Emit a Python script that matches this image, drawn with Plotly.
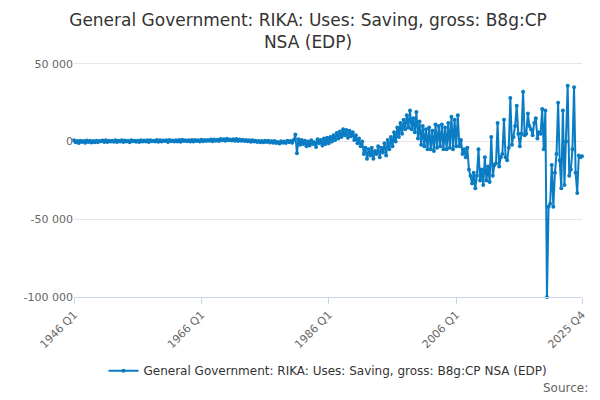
import plotly.graph_objects as go

years = list(range(1946, 2026))
quarters = [f"{y} Q{q}" for y in years for q in range(1, 5)]

# quarterly values (GBP m), one row per year
rows = [
    [800, -500, 300, -900],      # 1946
    [600, -300, 400, -700],
    [700, -200, 500, -600],
    [400, -400, 600, -500],
    [300, 200, 700, -300],       # 1950
    [900, -200, 500, 100],
    [600, -100, 800, -300],
    [500, 100, 900, -200],
    [700, 0, 600, -400],
    [800, 200, 500, -100],       # 1955
    [600, -200, 900, 0],
    [700, 100, 800, -300],
    [900, 200, 600, 0],
    [1000, -100, 800, 100],
    [700, 300, 900, -200],       # 1960
    [1100, 200, 700, 0],
    [800, 100, 1000, -100],
    [1200, 300, 800, 200],
    [900, 100, 1100, 0],
    [1000, 400, 900, 100],       # 1965
    [1200, 200, 1000, 300],
    [1100, 500, 1300, 200],
    [1400, 600, 1200, 400],
    [1600, 800, 1500, 500],
    [1800, 900, 1400, 700],      # 1970
    [1500, 600, 1700, 400],
    [1300, 500, 1200, 300],
    [1000, 200, 900, -100],
    [800, 0, 600, -300],
    [400, -500, 300, -400],      # 1975
    [600, -200, 500, -600],
    [200, -800, 400, -900],
    [-300, -1200, 200, -700],
    [100, -900, 600, -500],
    [300, -800, 1000, 4500],     # 1980
    [-7500, 1500, -2000, 1000],
    [-1500, 500, -3000, 0],
    [-2500, 800, -1500, -500],
    [-3500, 1500, -1000, 1000],
    [-2500, 2000, -1500, 2500],  # 1985
    [-1000, 3000, 0, 4000],
    [1000, 5500, 2000, 6500],
    [3000, 8000, 4000, 7500],
    [2500, 7000, 3500, 6000],
    [1000, 4000, -1000, 2000],   # 1990
    [-3000, 0, -8000, -4000],
    [-11000, -5000, -9000, -4000],
    [-11000, -6000, -8000, -3000],
    [-10000, -4000, -7000, -1000],
    [-9000, 1000, -5000, 3000],  # 1995
    [-3000, 6000, 0, 9000],
    [3000, 12000, 5000, 14000],
    [8000, 17000, 9000, 20000],
    [8000, 15000, 6000, 19000],
    [2000, 13000, -2000, 10000], # 2000
    [-3000, 8000, -5000, 9000],
    [-5000, 7000, -6000, 11000],
    [-4000, 10000, -3000, 11000],
    [-5000, 9000, -5000, 12000],
    [-4000, 16000, -5000, 14000], # 2005
    [-3000, 17000, -3000, 1000],
    [-8000, -5000, -10000, -4000],
    [-18000, -22000, -27000, -20000],
    [-30000, -22000, -5000, -25000],
    [-18000, -28000, -10000, -25000], # 2010
    [-16000, -26000, 3000, -22000],
    [-15000, -14000, 12000, -16000],
    [-10000, -8000, 14000, -10000],
    [-12000, -4000, 28000, -2000],
    [3000, 10000, 23000, 5000],   # 2015
    [-3000, 5000, 32000, 4000],
    [5000, 18000, 10000, 8000],
    [4000, 12000, 15000, 2000],
    [6000, 5000, 21000, -5000],
    [20000, -100000, -42000, -40000], # 2020
    [-15000, -42000, -20000, -8000],
    [25000, -12000, -30000, 20000],
    [-28000, 0, 36000, -22000],
    [-18000, -5000, 35000, -20000],
    [-33000, -9000, -10000, -9500],   # 2025
]
values = [v for r in rows for v in r]
assert len(values) == len(quarters)

series_name = "General Government: RIKA: Uses: Saving, gross: B8g:CP NSA (EDP)"
tick_vals = ["1946 Q1", "1966 Q1", "1986 Q1", "2006 Q1", "2025 Q4"]

fig = go.Figure()
fig.add_trace(go.Scatter(
    x=quarters, y=values, mode="lines+markers", name=series_name,
    line=dict(color="#0a7cc3", width=2), marker=dict(size=4, color="#0a7cc3"),
    cliponaxis=False,
))
fig.update_layout(
    width=600, height=400,
    font=dict(family="DejaVu Sans", color="#333"),
    title=dict(text="General Government: RIKA: Uses: Saving, gross: B8g:CP<br>NSA (EDP)",
               x=0.5, y=0.955, font=dict(size=17)),
    plot_bgcolor="white", paper_bgcolor="white",
    margin=dict(l=66, r=26, t=52, b=111, autoexpand=False),
    showlegend=True,
    legend=dict(orientation="h", x=0.5, xanchor="center", y=-0.25, font=dict(size=12)),
    xaxis=dict(type="category", tickvals=tick_vals, ticktext=tick_vals, tickangle=-45,
               showgrid=False, ticks="outside", ticklen=6, tickcolor="#ccd6eb",
               showline=True, linecolor="#ccd6eb", tickfont=dict(size=11, color="#666"),
               range=[0, len(quarters) - 1]),
    yaxis=dict(range=[-100000, 52500], tickvals=[-100000, -50000, 0, 50000],
               ticktext=["-100 000", "-50 000", "0", "50 000"], gridcolor="#e6e6e6",
               zeroline=False, tickfont=dict(size=11, color="#666")),
)
fig.add_annotation(text="Source:", xref="paper", yref="paper", x=1.015, y=-0.42,
                   showarrow=False, xanchor="right", font=dict(size=12, color="#666"))
fig.write_html("out.html")
